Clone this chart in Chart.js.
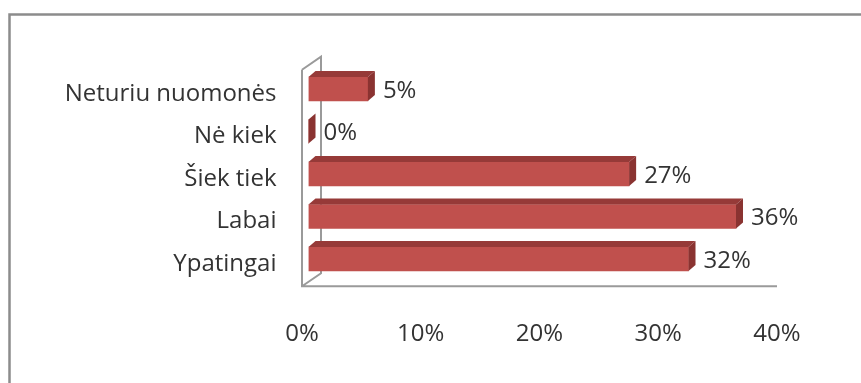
<!DOCTYPE html>
<html>
<head>
<meta charset="utf-8">
<script src="https://cdn.jsdelivr.net/npm/chart.js@4/dist/chart.umd.min.js"></script>
<style>
  body { margin: 0; background: #fff; }
  canvas { display: block; }
</style>
</head>
<body>
<canvas id="myChart" width="861" height="383"></canvas>
<script>
// survey answers, top row first
const categories = ['Neturiu nuomonės', 'Nė kiek', 'Šiek tiek', 'Labai', 'Ypatingai'];
const values = [5, 0, 27, 36, 32];
const tickLabels = ['0%', '10%', '20%', '30%', '40%'];

const FONT = "'Open Sans', sans-serif";
const TEXT = '#333333';
const DX = 7, DY = 6;      // bar depth
const SHIFT = 6.5;         // bars sit a bit in front of the wall

// back wall + floor line, drawn behind the bars
const wallPlugin = {
    id: 'wall',
    beforeDatasetsDraw(chart) {
        const ctx = chart.ctx;
        const xs = chart.scales.x;
        const area = chart.chartArea;
        const left = xs.getPixelForValue(0) - SHIFT;
        const right = xs.getPixelForValue(40) - SHIFT;
        const floorY = area.bottom + 6;
        const topY = area.top + 2;
        const wx = 19, wy = 13;
        ctx.save();
        ctx.strokeStyle = '#9a9a9a';
        ctx.lineWidth = 2;
        ctx.beginPath();
        ctx.moveTo(left, topY);
        ctx.lineTo(left, floorY);
        ctx.lineTo(right, floorY);
        ctx.moveTo(left, topY);
        ctx.lineTo(left + wx, topY - wy);
        ctx.lineTo(left + wx, floorY - wy);
        ctx.lineTo(left, floorY);
        ctx.stroke();
        ctx.restore();
    }
};

// top and side faces of each bar, then the value labels
const bar3dPlugin = {
    id: 'bar3d',
    afterDatasetsDraw(chart) {
        const ctx = chart.ctx;
        const meta = chart.getDatasetMeta(0);
        ctx.save();
        meta.data.forEach((el, i) => {
            const p = el.getProps(['x', 'y', 'base', 'height'], true);
            const top = p.y - p.height / 2;
            const bottom = p.y + p.height / 2;

            ctx.fillStyle = '#963a38';
            ctx.beginPath();
            ctx.moveTo(p.base, top);
            ctx.lineTo(p.x, top);
            ctx.lineTo(p.x + DX, top - DY);
            ctx.lineTo(p.base + DX, top - DY);
            ctx.closePath();
            ctx.fill();

            ctx.fillStyle = '#8a3331';
            ctx.beginPath();
            ctx.moveTo(p.x, top);
            ctx.lineTo(p.x + DX, top - DY);
            ctx.lineTo(p.x + DX, bottom - DY);
            ctx.lineTo(p.x, bottom);
            ctx.closePath();
            ctx.fill();

            ctx.fillStyle = TEXT;
            ctx.font = '24px ' + FONT;
            ctx.textAlign = 'left';
            ctx.textBaseline = 'middle';
            ctx.fillText(values[i] + '%', p.x + 15, p.y + 2);
        });
        ctx.restore();
    }
};

// outer frame: only the top and left edges are visible
const framePlugin = {
    id: 'frame',
    afterDraw(chart) {
        const ctx = chart.ctx;
        ctx.save();
        ctx.strokeStyle = '#8c8c8c';
        ctx.lineWidth = 2.5;
        ctx.beginPath();
        ctx.moveTo(9.5, chart.height);
        ctx.lineTo(9.5, 14.5);
        ctx.lineTo(chart.width, 14.5);
        ctx.stroke();
        ctx.restore();
    }
};

const ctx = document.getElementById('myChart').getContext('2d');
const myChart = new Chart(ctx, {
    type: 'bar',
    data: {
        labels: categories,
        datasets: [{
            data: values,
            backgroundColor: '#c0504d',
            barThickness: 24
        }]
    },
    options: {
        indexAxis: 'y',
        responsive: false,
        animation: false,
        events: [],
        layout: {
            padding: { top: 67.75, right: 77.5, bottom: 0, left: 0 }
        },
        plugins: {
            legend: { display: false },
            tooltip: { enabled: false }
        },
        scales: {
            x: {
                min: 0,
                max: 40,
                grid: { display: false, drawTicks: false },
                border: { display: false },
                afterFit: (scale) => { scale.height = 383 - 280.25; },
                ticks: {
                    stepSize: 10,
                    padding: 40,
                    labelOffset: -SHIFT,
                    color: TEXT,
                    font: { family: FONT, size: 24 },
                    callback: (v, i) => tickLabels[i]
                }
            },
            y: {
                grid: { display: false, drawTicks: false },
                border: { display: false },
                afterFit: (scale) => { scale.width = 308.5; },
                ticks: {
                    padding: 32,
                    labelOffset: 5,
                    color: TEXT,
                    font: { family: FONT, size: 24 }
                }
            }
        }
    },
    plugins: [wallPlugin, bar3dPlugin, framePlugin]
});
</script>
</body>
</html>
